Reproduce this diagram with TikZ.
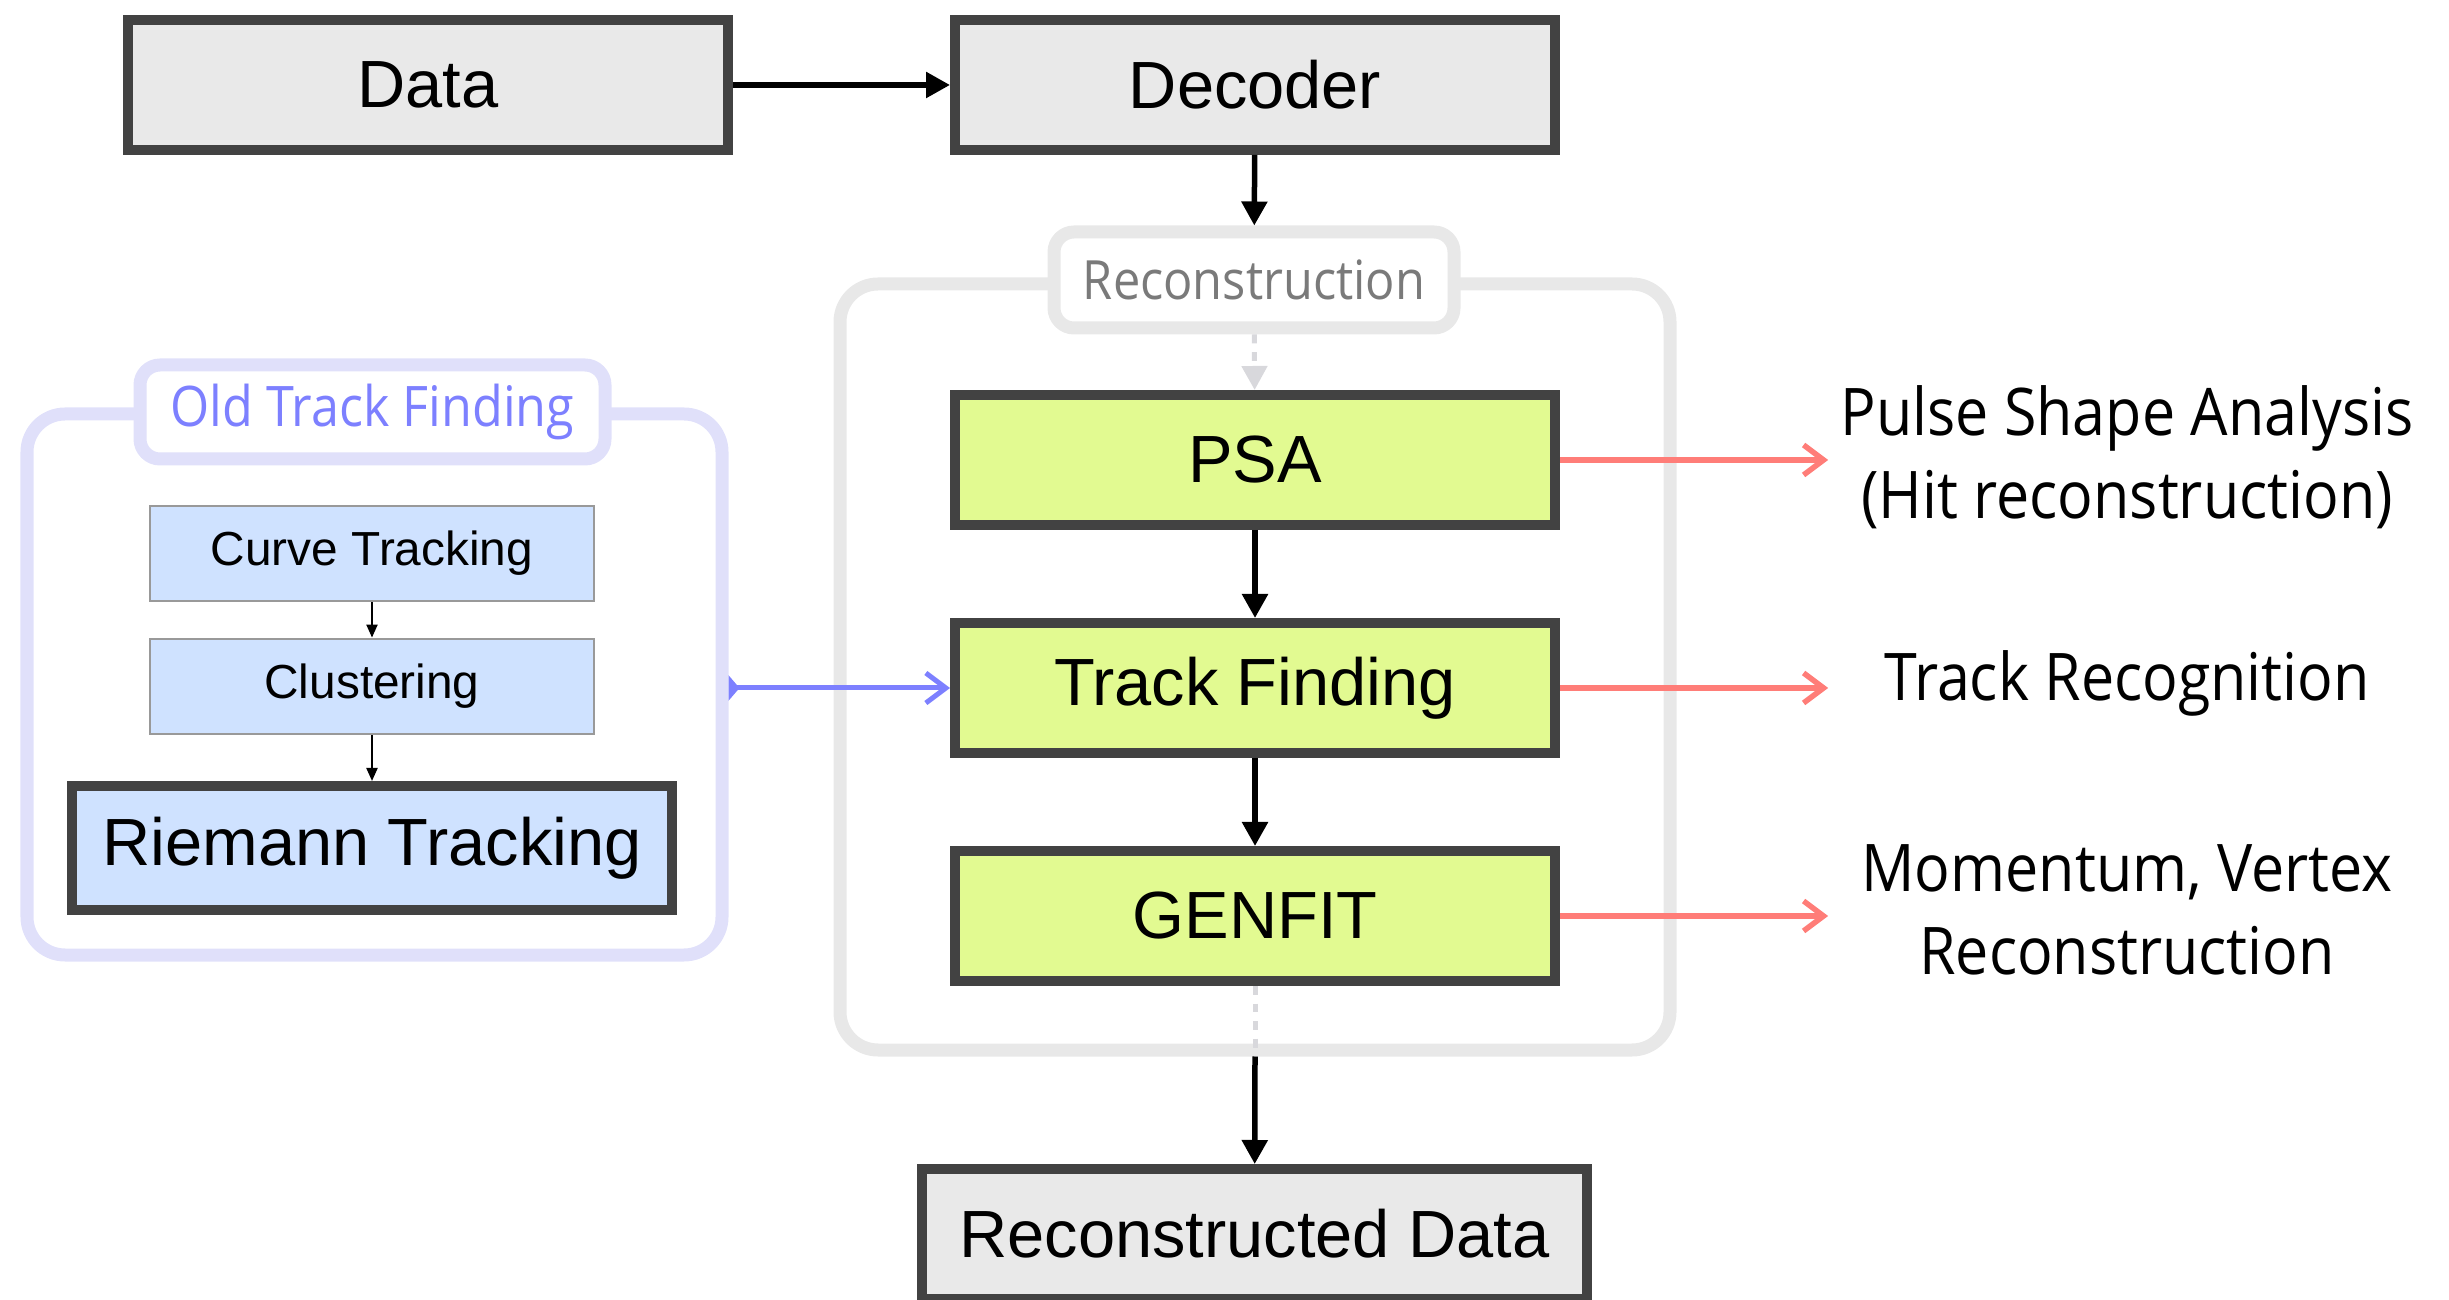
\documentclass[tikz,border=0pt]{standalone}
\usepackage{fontspec}
\setmainfont{Liberation Sans}
\newfontfamily\notefont[FakeStretch=0.9]{Open Sans}
\usetikzlibrary{arrows.meta,positioning,calc}
\definecolor{boxEdge}{RGB}{66,66,66}
\definecolor{boxGray}{RGB}{233,233,233}
\definecolor{stageLime}{RGB}{226,250,145}
\definecolor{oldBlue}{RGB}{207,226,255}
\definecolor{oldFrame}{RGB}{224,224,250}
\definecolor{oldText}{RGB}{125,128,255}
\definecolor{recFrame}{RGB}{232,232,232}
\definecolor{recText}{RGB}{122,122,122}
\definecolor{noteRed}{RGB}{255,125,120}
\definecolor{hintGray}{RGB}{216,216,220}

\begin{document}
\begin{tikzpicture}[
    mainbox/.style={draw=boxEdge, line width=0.1cm, fill=boxGray,
      minimum width=6cm, minimum height=1.3cm, inner sep=0pt,
      font=\fontsize{19}{23}\selectfont},
    stagebox/.style={mainbox, fill=stageLime},
    oldstep/.style={draw=gray!80, line width=0.8pt, fill=oldBlue,
      minimum width=4.44cm, minimum height=0.95cm, inner sep=0pt,
      font=\fontsize{13.6}{16}\selectfont},
    grpframe/.style={rounded corners=0.38cm, line width=0.13cm, inner sep=0pt},
    grplabel/.style={grpframe, rounded corners=0.2cm, fill=white},
    note/.style={font=\notefont\fontsize{18.7}{23.5}\selectfont, align=center},
    flow/.style={->, line width=0.055cm},
    smallflow/.style={-{Triangle[length=0.13cm,width=0.11cm]}, line width=0.6pt},
    noteflow/.style={-{Straight Barb[length=0.2cm,width=0.3cm]}, noteRed, line width=0.055cm},
    oldflow/.style={{Triangle[reversed,length=0.11cm,width=0.25cm]}-{Straight Barb[length=0.2cm,width=0.3cm]},
      oldText, line width=0.05cm},
    hint/.style={hintGray, line width=0.05cm, dash pattern=on 2.5pt off 2.5pt},
    >={Triangle[length=0.24cm,width=0.25cm]}
  ]
  \useasboundingbox (0,0) rectangle (24.49,12.99);

  % group frames
  \node[grpframe, draw=recFrame, minimum width=8.3cm, minimum height=7.66cm] (recgrp) at (12.55, 6.32) {};
  \node[grpframe, draw=oldFrame, minimum width=6.95cm, minimum height=5.41cm] (oldgrp) at (3.745, 6.145) {};

  % main chain
  \node[mainbox] (data) at (4.28, 12.14) {Data};
  \node[mainbox] (decoder) at (12.55, 12.14) {Decoder};
  \node[grplabel, draw=recFrame, text=recText, minimum width=4cm, minimum height=0.96cm,
    font=\notefont\fontsize{15.4}{18}\selectfont] (reclabel) at (12.54, 10.19) {Reconstruction};
  \node[stagebox] (psa) at (12.55, 8.39) {PSA};
  \node[stagebox] (tf) at (12.55, 6.11) {Track Finding};
  \node[stagebox] (genfit) at (12.55, 3.83) {GENFIT};
  \node[mainbox, minimum width=6.65cm] (recdata) at (12.545, 0.65) {Reconstructed Data};

  % old track finding
  \node[grplabel, draw=oldFrame, text=oldText, minimum width=4.65cm, minimum height=0.94cm,
    font=\notefont\fontsize{15.9}{18}\selectfont] (oldlabel) at (3.725, 8.87) {Old Track Finding};
  \node[oldstep] (curve) at (3.72, 7.455) {Curve Tracking};
  \node[oldstep] (cluster) at (3.72, 6.125) {Clustering};
  \node[mainbox, fill=oldBlue, minimum height=1.24cm] (riemann) at (3.72, 4.51) {Riemann Tracking};

  % notes
  \node[note] (psanote) at (21.27, 8.42) {Pulse Shape Analysis\\(Hit reconstruction)};
  \node[note] (tfnote) at (21.27, 6.16) {Track Recognition};
  \node[note] (fitnote) at (21.27, 3.89) {Momentum, Vertex\\Reconstruction};

  \draw[flow] (data) -- (decoder);
  \draw[flow] (decoder) -- (reclabel);
  \draw[hint, ->] (reclabel) -- (psa);
  \draw[flow] (psa) -- (tf);
  \draw[flow] (tf) -- (genfit);
  \draw[hint] (genfit) -- (recgrp.south);
  \draw[flow] (recgrp.south) -- (recdata);

  \draw[smallflow] (curve) -- (cluster);
  \draw[smallflow] (cluster) -- (riemann);
  \draw[oldflow] (oldgrp.east |- tf.west) -- (tf.west);

  \draw[noteflow] (psa.east) -- (psa.east -| psanote.west);
  \draw[noteflow] (tf.east) -- (tf.east -| psanote.west);
  \draw[noteflow] (genfit.east) -- (genfit.east -| psanote.west);
\end{tikzpicture}
\end{document}
